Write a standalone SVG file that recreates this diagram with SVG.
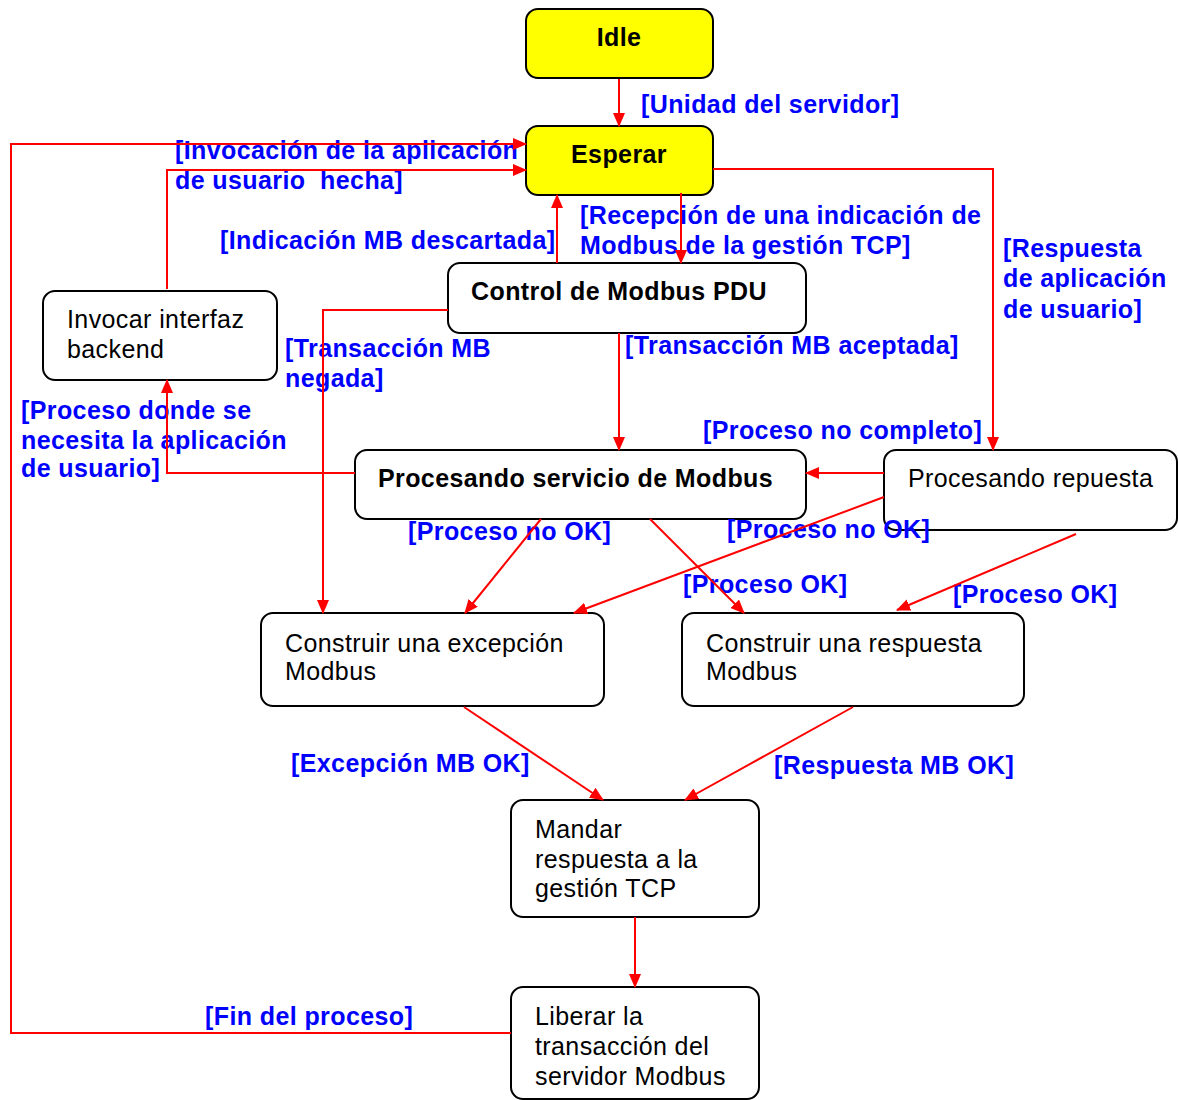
<svg xmlns="http://www.w3.org/2000/svg" width="1178" height="1100" viewBox="0 0 1178 1100">
<style>
.box{fill:#fff;stroke:#000;stroke-width:2}
.yel{fill:#FFFF00}
.t{font-family:"Liberation Sans",Arial,sans-serif;font-size:25px;letter-spacing:0.4px;fill:#000}
.b{font-weight:bold}
.lbl{font-family:"Liberation Sans",Arial,sans-serif;font-size:25px;letter-spacing:0.4px;font-weight:bold;fill:#0000FF;white-space:pre}
.c{fill:none;stroke:#FF0000;stroke-width:2;marker-end:url(#ah)}
.cn{fill:none;stroke:#FF0000;stroke-width:2}
</style>
<defs>
<marker id="ah" markerUnits="userSpaceOnUse" markerWidth="14" markerHeight="12" viewBox="0 0 14 12" refX="13" refY="6" orient="auto">
<path d="M0,0 L14,6 L0,12 z" fill="#FF0000"/>
</marker>
</defs>
<rect width="1178" height="1100" fill="#fff"/>
<g id="idle"><rect class="box yel" x="526" y="9" width="187" height="69" rx="12"/><text class="t b" x="619" y="46" text-anchor="middle">Idle</text></g>
<g id="esperar"><rect class="box yel" x="526" y="126" width="187" height="69" rx="12"/><text class="t b" x="619" y="163" text-anchor="middle">Esperar</text></g>
<g id="control"><rect class="box" x="448" y="263" width="358" height="70" rx="12"/><text class="t b" x="471" y="300">Control de Modbus PDU</text></g>
<g id="invocar"><rect class="box" x="43" y="291" width="234" height="89" rx="12"/><text class="t" x="67" y="328">Invocar interfaz</text><text class="t" x="67" y="358">backend</text></g>
<g id="procserv"><rect class="box" x="355" y="450" width="451" height="69" rx="12"/><text class="t b" x="378" y="487">Procesando servicio de Modbus</text></g>
<g id="procresp"><rect class="box" x="884" y="450" width="293" height="80" rx="12"/><text class="t" x="908" y="487">Procesando repuesta</text></g>
<g id="excepcion"><rect class="box" x="261" y="613" width="343" height="93" rx="12"/><text class="t" x="285" y="652">Construir una excepción</text><text class="t" x="285" y="680">Modbus</text></g>
<g id="respuesta"><rect class="box" x="682" y="613" width="342" height="93" rx="12"/><text class="t" x="706" y="652">Construir una respuesta</text><text class="t" x="706" y="680">Modbus</text></g>
<g id="mandar"><rect class="box" x="511" y="800" width="248" height="117" rx="12"/><text class="t" x="535" y="838">Mandar</text><text class="t" x="535" y="868">respuesta a la</text><text class="t" x="535" y="897">gestión TCP</text></g>
<g id="liberar"><rect class="box" x="511" y="987" width="248" height="112" rx="12"/><text class="t" x="535" y="1025">Liberar la</text><text class="t" x="535" y="1055">transacción del</text><text class="t" x="535" y="1085">servidor Modbus</text></g>
<g id="labels">
<text class="lbl" x="641" y="113">[Unidad del servidor]</text>
<text class="lbl" x="175" y="159">[Invocación de la aplicación</text>
<text class="lbl" x="175" y="189">de usuario  hecha]</text>
<text class="lbl" x="220" y="249">[Indicación MB descartada]</text>
<text class="lbl" x="580" y="224">[Recepción de una indicación de</text>
<text class="lbl" x="580" y="254">Modbus de la gestión TCP]</text>
<text class="lbl" x="1003" y="257">[Respuesta</text>
<text class="lbl" x="1003" y="287">de aplicación</text>
<text class="lbl" x="1003" y="318">de usuario]</text>
<text class="lbl" x="625" y="354">[Transacción MB aceptada]</text>
<text class="lbl" x="285" y="357">[Transacción MB</text>
<text class="lbl" x="285" y="387">negada]</text>
<text class="lbl" x="21" y="419">[Proceso donde se</text>
<text class="lbl" x="21" y="449">necesita la aplicación</text>
<text class="lbl" x="21" y="477">de usuario]</text>
<text class="lbl" x="703" y="439">[Proceso no completo]</text>
<text class="lbl" x="408" y="540">[Proceso no OK]</text>
<text class="lbl" x="727" y="538">[Proceso no OK]</text>
<text class="lbl" x="683" y="593">[Proceso OK]</text>
<text class="lbl" x="953" y="603">[Proceso OK]</text>
<text class="lbl" x="291" y="772">[Excepción MB OK]</text>
<text class="lbl" x="774" y="774">[Respuesta MB OK]</text>
<text class="lbl" x="205" y="1025">[Fin del proceso]</text>
</g>
<g id="connectors">
<path class="c" d="M619,79 L619,126"/>
<path class="c" d="M681,193 L681,263"/>
<path class="c" d="M557,263 L557,195"/>
<path class="c" d="M713,169 L993,169 L993,450"/>
<path class="c" d="M167,289 L167,170 L526,170"/>
<path class="c" d="M511,1033 L11,1033 L11,144 L526,144"/>
<path class="c" d="M448,310 L323,310 L323,613"/>
<path class="c" d="M619,333 L619,450"/>
<path class="c" d="M355,473 L167,473 L167,380"/>
<path class="c" d="M884,473 L806,473"/>
<path class="c" d="M884,497 L574,613"/>
<path class="c" d="M541,519 L465,613"/>
<path class="c" d="M650,519 L744,613"/>
<path class="c" d="M1076,534 L897,610"/>
<path class="c" d="M464,707 L603,800"/>
<path class="c" d="M853,707 L685,800"/>
<path class="c" d="M635,917 L635,987"/>
</g>
</svg>
